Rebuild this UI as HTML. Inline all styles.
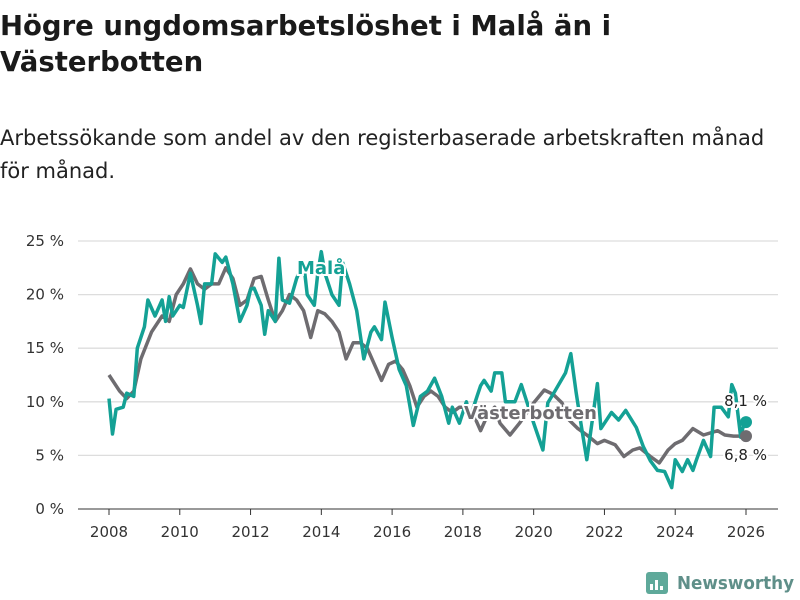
<!DOCTYPE html>
<html><head><meta charset="utf-8"><style>
body{margin:0;background:#fff;font-family:"DejaVu Sans","Liberation Sans",sans-serif;}
#wrap{position:relative;width:800px;height:600px;overflow:hidden}
h1{position:absolute;left:0;top:8px;margin:0;font-size:27.5px;line-height:36px;font-weight:bold;color:#1a1a1a;width:700px}
p.sub{position:absolute;left:0;top:122px;margin:0;font-size:21px;line-height:33px;color:#222;width:785px}
svg{position:absolute;left:0;top:0}
</style></head><body>
<div id="wrap">
<h1>Högre ungdomsarbetslöshet i Malå än i Västerbotten</h1>
<p class="sub">Arbetssökande som andel av den registerbaserade arbetskraften månad för månad.</p>
<svg id="chart" width="800" height="600"></svg>
</div>
<script>
const yTicks=[0,5,10,15,20,25];
const xTicks=[2008,2010,2012,2014,2016,2018,2020,2022,2024,2026];
const vbYears=[2008.0,2008.3,2008.5,2008.7,2008.9,2009.2,2009.5,2009.7,2009.9,2010.1,2010.3,2010.5,2010.7,2010.9,2011.1,2011.3,2011.5,2011.7,2011.9,2012.1,2012.3,2012.5,2012.7,2012.9,2013.1,2013.3,2013.5,2013.7,2013.9,2014.1,2014.3,2014.5,2014.7,2014.9,2015.1,2015.3,2015.5,2015.7,2015.9,2016.1,2016.3,2016.5,2016.7,2016.9,2017.1,2017.3,2017.5,2017.7,2017.9,2018.1,2018.3,2018.5,2018.7,2018.9,2019.05,2019.33,2019.6,2020.0,2020.3,2020.55,2020.8,2021.0,2021.25,2021.5,2021.8,2022.0,2022.3,2022.55,2022.8,2023.0,2023.3,2023.55,2023.8,2024.0,2024.2,2024.5,2024.8,2025.2,2025.4,2025.65,2025.9,2026.0];
const vbVals=[12.5,11,10.3,11,14,16.5,18,17.5,20,21,22.4,21,20.5,21,21,22.5,21.5,19,19.5,21.5,21.7,19.5,17.5,18.5,20,19.5,18.5,16,18.5,18.2,17.5,16.5,14,15.5,15.5,15,13.5,12,13.5,13.8,13,11.5,9.5,10.5,11,10.5,9.5,9,9.5,9.5,8.8,7.3,8.8,9.5,8.0,6.9,8.0,9.9,11.1,10.7,9.9,8.3,7.5,6.9,6.1,6.4,6.0,4.9,5.5,5.7,4.9,4.3,5.5,6.1,6.4,7.5,6.9,7.3,6.9,6.8,6.8,6.8];
const maYears=[2008.0,2008.1,2008.2,2008.4,2008.5,2008.7,2008.8,2009.0,2009.1,2009.3,2009.5,2009.6,2009.7,2009.8,2010.0,2010.1,2010.3,2010.5,2010.6,2010.7,2010.9,2011.0,2011.2,2011.3,2011.5,2011.7,2011.9,2012.0,2012.1,2012.3,2012.4,2012.5,2012.7,2012.8,2012.9,2013.1,2013.3,2013.5,2013.6,2013.8,2013.9,2014.0,2014.1,2014.3,2014.5,2014.6,2014.8,2015.0,2015.2,2015.4,2015.5,2015.7,2015.8,2016.0,2016.2,2016.4,2016.6,2016.8,2017.0,2017.2,2017.4,2017.6,2017.7,2017.9,2018.1,2018.2,2018.4,2018.5,2018.6,2018.8,2018.9,2019.1,2019.2,2019.47,2019.65,2020.0,2020.26,2020.4,2020.6,2020.9,2021.05,2021.2,2021.35,2021.5,2021.8,2021.9,2022.2,2022.4,2022.6,2022.9,2023.1,2023.3,2023.5,2023.7,2023.9,2024.0,2024.2,2024.35,2024.5,2024.6,2024.8,2025.0,2025.1,2025.3,2025.5,2025.6,2025.7,2025.85,2025.95,2026.0];
const maVals=[10.3,7,9.3,9.5,10.8,10.5,15,17,19.5,18,19.5,17.5,19.8,18,19,18.8,22,19,17.3,21,21,23.8,23,23.5,21,17.5,19,20.5,20.6,19,16.3,18.5,17.5,23.4,19.5,19.2,21.5,23,20,19,22,24,22,20,19,23,21,18.5,14,16.5,17,15.8,19.3,16,13,11.5,7.8,10.5,11,12.2,10.5,8,9.5,8,10,8.5,10.5,11.5,12,11,12.7,12.7,10,10,11.6,8,5.5,9.9,11,12.7,14.5,10.9,7.7,4.6,11.7,7.5,9,8.3,9.2,7.6,5.8,4.5,3.6,3.5,2,4.6,3.5,4.6,3.6,4.6,6.4,4.9,9.5,9.5,8.6,11.6,10.8,6.7,8.1,8.1];
const NS="http://www.w3.org/2000/svg";
const svg=document.getElementById('chart');
const X=y=>109+(y-2008)*(746-109)/18;
const Y=v=>509-v*(509-241)/25;
function mk(t,a){const e=document.createElementNS(NS,t);for(const k in a)e.setAttribute(k,a[k]);svg.appendChild(e);return e;}
yTicks.forEach(v=>{
 const l=mk('line',{x1:78,x2:778,y1:Y(v),y2:Y(v),stroke:v===0?'#333':'#ddd','stroke-width':v===0?1:1.3});
 
 
 const t=mk('text',{x:64,y:Y(v)+5,'text-anchor':'end','font-size':15,fill:'#333','font-family':'DejaVu Sans, Liberation Sans, sans-serif'});
 t.textContent=v+' %';
 
 
});
xTicks.forEach(yr=>{
 const l=mk('line',{x1:X(yr),x2:X(yr),y1:509,y2:515,stroke:'#333'});
 
 
 const t=mk('text',{x:X(yr),y:537,'text-anchor':'middle','font-size':15,fill:'#333','font-family':'DejaVu Sans, Liberation Sans, sans-serif'});
 t.textContent=yr;
 
 
});
function pts(xs,vs){return xs.map((x,i)=>X(x).toFixed(1)+','+Y(vs[i]).toFixed(1)).join(' ');}
const g=mk('polyline',{points:pts(vbYears,vbVals),fill:'none',stroke:'#6e6c70','stroke-width':3.5,'stroke-linejoin':'round'});


const m=mk('polyline',{points:pts(maYears,maVals),fill:'none',stroke:'#14a195','stroke-width':3.5,'stroke-linejoin':'round'});


const gl=vbYears.length-1, ml=maYears.length-1;
const d1=mk('circle',{cx:X(vbYears[gl]),cy:Y(vbVals[gl]),r:6,fill:'#6e6c70'});


const d2=mk('circle',{cx:X(maYears[ml]),cy:Y(maVals[ml]),r:6,fill:'#14a195'});


function lab(txt,x,y,col,size,w,name,anchor){
 const t=mk('text',{x:x,y:y,'font-size':size,'font-weight':w,fill:col,stroke:'#fff','stroke-width':4,'paint-order':'stroke','text-anchor':anchor||'start','font-family':'DejaVu Sans, Liberation Sans, sans-serif'});
 t.textContent=txt;
 
 
}
lab('Malå',297,274,'#14a195',18,'bold','mala-label');
lab('Västerbotten',464,419,'#6e6c70',18,'bold','vasterbotten-label');
lab('8,1 %',767,406,'#222',15,'normal','mala-end-value','end');
lab('6,8 %',767,460,'#222',15,'normal','vasterbotten-end-value','end');
const lg=mk('rect',{x:646,y:572,width:22,height:22,rx:3,fill:'#5fa99a'});


[[650,584,3,6],[655,580,3,10],[660,586,3,4]].forEach(b=>{const r=mk('rect',{x:b[0],y:b[1],width:b[2],height:b[3],fill:'#fff'});});
const lt=mk('text',{x:677,y:589,'font-size':18,'font-weight':'bold',fill:'#5f8f89',textLength:117,lengthAdjust:'spacingAndGlyphs','font-family':'DejaVu Sans, Liberation Sans, sans-serif'});
lt.textContent='Newsworthy';


</script>
</body></html>
